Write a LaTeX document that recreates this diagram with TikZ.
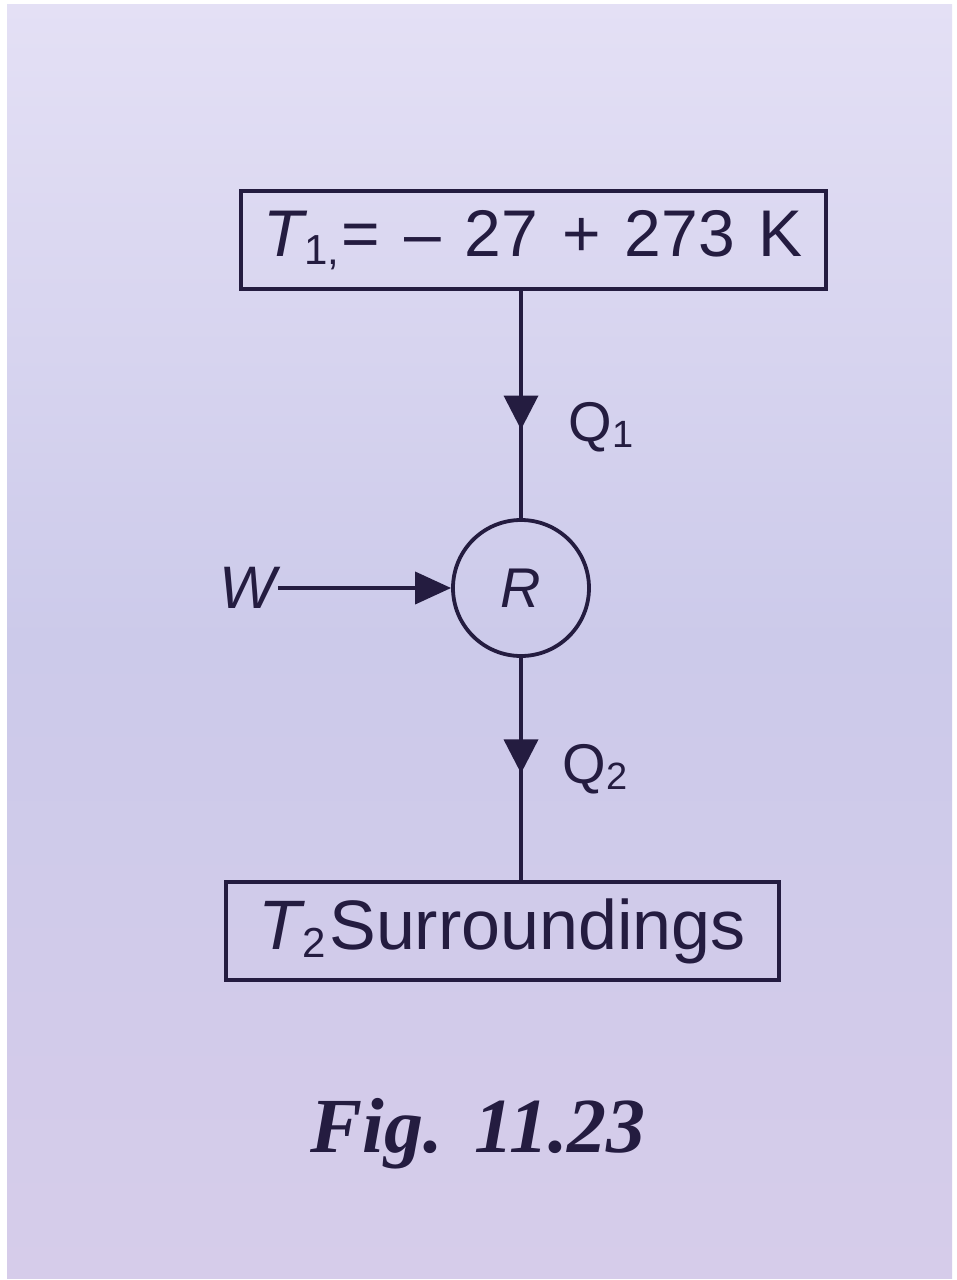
\documentclass[tikz,border=0pt]{standalone}
\usepackage{graphicx}
\usepackage{fontspec}
\setmainfont{Liberation Sans}
\newfontfamily\capfont{Liberation Serif}
\usetikzlibrary{arrows.meta,decorations.markings}
\definecolor{ink}{RGB}{36,28,64}
\definecolor{bgtop}{RGB}{228,224,245}
\definecolor{bgmid}{RGB}{204,202,234}
\definecolor{bgbot}{RGB}{214,204,234}
\begin{document}
\begin{tikzpicture}[x=1pt,y=-1pt,
  box/.style={draw=ink,line width=4pt,minimum height=98pt,inner sep=0pt,text=ink,
    font=\fontsize{66}{72}\selectfont},
  refr/.style={circle,draw=ink,line width=3.8pt,minimum size=136pt,inner sep=0pt,text=ink,
    font=\fontsize{56}{62}\selectfont\itshape},
  lbl/.style={text=ink,inner sep=2pt,font=\fontsize{56}{62}\selectfont},
  conn/.style={draw=ink,line width=3.8pt},
  flowarrow/.style={decoration={markings,mark=at position #1 with {\arrow{Triangle[length=34pt,width=34pt]}}},postaction={decorate}},
]
\useasboundingbox (0,0) rectangle (957,1280);
\fill[white] (0,0) rectangle (957,1280);
\shade[top color=bgtop,bottom color=bgbot,middle color=bgmid] (7,4) rectangle (952,1278);

\node[box,minimum width=585pt] (top) at (533,240)
  {\spaceskip=24pt\relax{\itshape T}\kern1pt\raisebox{-8pt}{\fontsize{42}{42}\selectfont 1,}\kern2pt= – 27 + 273 K};
\node[refr] (R) at (521,588) {R};
\node[box,minimum width=553pt] (bot) at (502,931)
  {\fontsize{70}{76}\selectfont{\itshape T}\kern1pt\raisebox{-8pt}{\fontsize{42}{42}\selectfont 2}\kern4pt Surroundings};
\node[lbl,font=\fontsize{60}{66}\selectfont\itshape,anchor=east] (W) at (278,588) {W};

\draw[conn,flowarrow=0.61] (R.north |- top.south) -- (R.north)
  node[lbl,pos=0.6,anchor=west,xshift=44pt] (Q1) {Q\raisebox{-6pt}{\fontsize{38}{38}\selectfont 1}};
\draw[conn,flowarrow=0.52] (R.south) -- (R.south |- bot.north)
  node[lbl,pos=0.5,anchor=west,xshift=38pt] (Q2) {Q\raisebox{-6pt}{\fontsize{38}{38}\selectfont 2}};
\draw[conn,-{Triangle[length=36pt,width=32pt]}] (W.east) -- (R.west);

\node[text=ink,anchor=base,font=\capfont\bfseries\itshape\fontsize{78}{84}\selectfont] (cap) at (478,1152)
  {Fig.\hspace{32pt}11.23};
\end{tikzpicture}
\end{document}
